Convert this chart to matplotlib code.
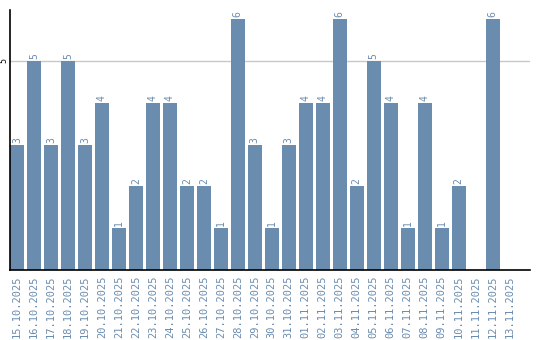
import matplotlib
matplotlib.use("Agg")
import matplotlib.pyplot as plt

dates = ["15.10.2025","16.10.2025","17.10.2025","18.10.2025","19.10.2025","20.10.2025",
         "21.10.2025","22.10.2025","23.10.2025","24.10.2025","25.10.2025","26.10.2025",
         "27.10.2025","28.10.2025","29.10.2025","30.10.2025","31.10.2025","01.11.2025",
         "02.11.2025","03.11.2025","04.11.2025","05.11.2025","06.11.2025","07.11.2025",
         "08.11.2025","09.11.2025","10.11.2025","11.11.2025","12.11.2025","13.11.2025"]
values = [3,5,3,5,3,4,1,2,4,4,2,2,1,6,3,1,3,4,4,6,2,5,4,1,4,1,2,0,6,0]

bar_color = "#6a8caf"
text_color = "#6a8caf"
font = "DejaVu Sans Mono"

fig = plt.figure(figsize=(5.4, 3.4), dpi=100)
ax = fig.add_axes([10/540, 70/340, 520/540, 260/340])

x = list(range(len(values)))
ax.bar(x, values, width=0.82, color=bar_color, zorder=2)
for xi, v in zip(x, values):
    if v > 0:
        ax.text(xi, v + 0.05, str(v), rotation=90, ha="center", va="bottom",
                fontsize=7, family=font, color=text_color)

ax.set_xlim(-0.41, 30.2)
ax.set_ylim(0, 6.22)
ax.axhline(5, color="#c8c8c8", linewidth=1, zorder=1)

ax.set_xticks(x)
ax.set_xticklabels(dates, rotation=90, fontsize=7.5, family=font, color=text_color)
ax.set_yticks([5])
ax.set_yticklabels(["5"], rotation=90, fontsize=6, family=font, color="black", va="center")
ax.tick_params(axis="x", length=0, pad=4)
ax.tick_params(axis="y", length=0, pad=1.5)

for s in ["top", "right"]:
    ax.spines[s].set_visible(False)
ax.spines["left"].set_color("black")
ax.spines["bottom"].set_color("black")
ax.spines["left"].set_linewidth(1.2)
ax.spines["bottom"].set_linewidth(1.2)

fig.savefig("out.png", dpi=100)
